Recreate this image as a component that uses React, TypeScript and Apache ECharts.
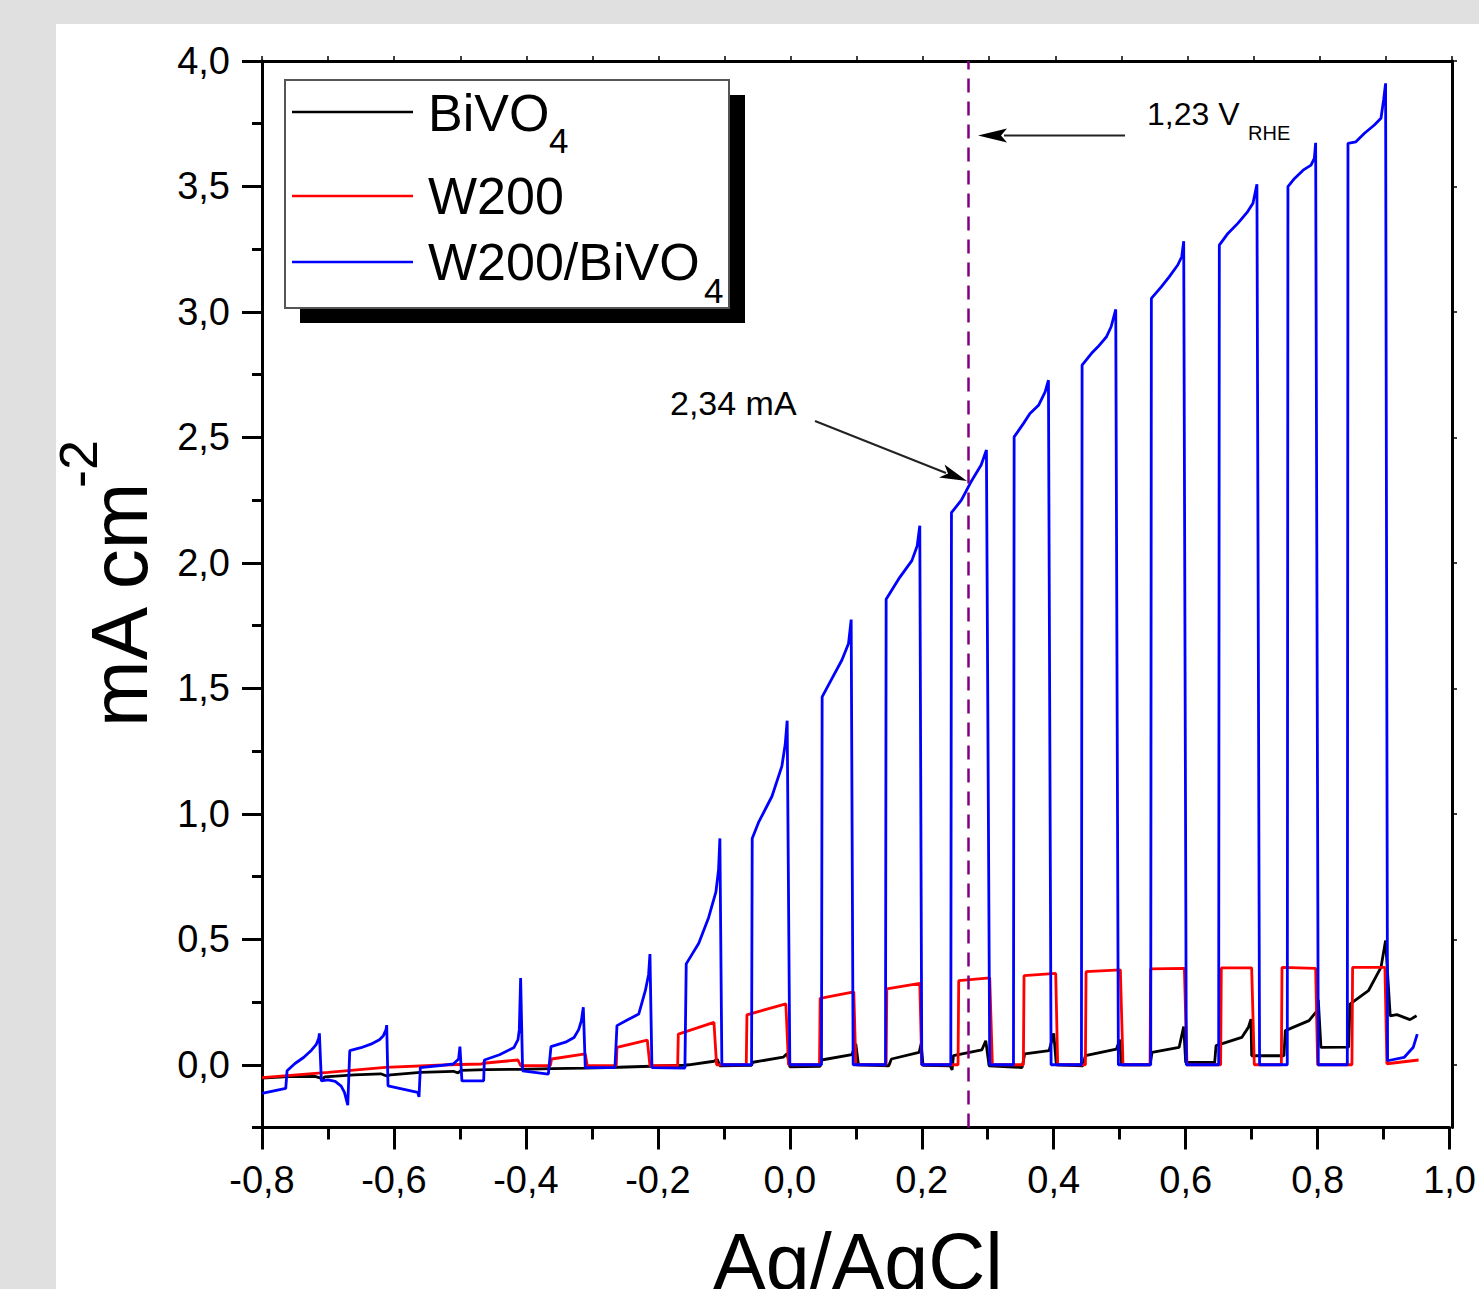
import React, { useEffect, useRef } from "react";
import * as echarts from "echarts";

const FONT = "'Liberation Sans', Arial, Helvetica, sans-serif";

// ---- data (potential vs Ag/AgCl [V], current density [mA cm^-2]) ----
const seriesNames = ["BiVO4", "W200", "W200/BiVO4"];
const seriesColors = ["#000000", "#ff0000", "#0000ff"];

const bivo4: [number, number][] = [
  [-0.8, -0.053], [-0.76, -0.047], [-0.72, -0.046], [-0.712, -0.052], [-0.709, -0.06], [-0.705, -0.048],
  [-0.66, -0.04], [-0.62, -0.036], [-0.612, -0.044], [-0.605, -0.04], [-0.56, -0.03], [-0.51, -0.026],
  [-0.503, -0.032], [-0.498, -0.022], [-0.46, -0.019], [-0.41, -0.018], [-0.36, -0.015], [-0.31, -0.013],
  [-0.26, -0.01], [-0.21, -0.006], [-0.16, -0.002], [-0.153, 0.0], [-0.115, 0.014], [-0.11, 0.022],
  [-0.106, -0.004], [-0.058, -0.002], [-0.056, 0.01], [-0.01, 0.03], [-0.004, 0.045], [0.0, -0.008],
  [0.046, -0.006], [0.048, 0.019], [0.094, 0.04], [0.1, 0.083], [0.104, 0.0], [0.15, -0.004],
  [0.154, 0.023], [0.196, 0.049], [0.199, 0.083], [0.202, -0.002], [0.243, -0.004], [0.246, -0.02],
  [0.248, 0.036], [0.291, 0.059], [0.297, 0.096], [0.302, -0.004], [0.352, -0.011], [0.356, 0.043],
  [0.393, 0.056], [0.4, 0.125], [0.404, 0.0], [0.444, -0.004], [0.448, 0.036], [0.495, 0.062],
  [0.5, 0.1], [0.503, 0.0], [0.546, 0.0], [0.549, 0.049], [0.59, 0.069], [0.597, 0.152],
  [0.6, 0.009], [0.644, 0.009], [0.646, 0.076], [0.685, 0.109], [0.695, 0.149], [0.699, 0.182],
  [0.7, 0.036], [0.749, 0.036], [0.751, 0.136], [0.787, 0.176], [0.799, 0.215], [0.801, 0.259],
  [0.805, 0.069], [0.847, 0.07], [0.849, 0.242], [0.877, 0.295], [0.896, 0.388], [0.903, 0.495],
  [0.91, 0.195], [0.92, 0.2], [0.93, 0.19], [0.94, 0.18], [0.95, 0.195],
];

const w200: [number, number][] = [
  [-0.8, -0.051], [-0.7, -0.03], [-0.613, -0.01], [-0.516, 0.0], [-0.467, 0.003], [-0.465, 0.006],
  [-0.412, 0.019], [-0.408, -0.004], [-0.363, -0.003], [-0.361, 0.023], [-0.31, 0.043], [-0.307, -0.004],
  [-0.263, -0.004], [-0.262, 0.069], [-0.216, 0.098], [-0.212, -0.004], [-0.17, -0.004], [-0.169, 0.122],
  [-0.115, 0.169], [-0.111, 0.0], [-0.066, 0.0], [-0.065, 0.199], [-0.006, 0.243], [-0.002, 0.0],
  [0.045, 0.0], [0.046, 0.265], [0.097, 0.29], [0.1, 0.0], [0.146, 0.0], [0.147, 0.302],
  [0.197, 0.324], [0.2, 0.0], [0.255, 0.0], [0.256, 0.335], [0.303, 0.346], [0.307, 0.0],
  [0.354, 0.0], [0.355, 0.355], [0.403, 0.364], [0.406, 0.0], [0.448, 0.0], [0.449, 0.371],
  [0.501, 0.378], [0.505, 0.0], [0.546, 0.0], [0.547, 0.382], [0.598, 0.384], [0.602, 0.0],
  [0.653, 0.0], [0.654, 0.386], [0.7, 0.386], [0.704, 0.0], [0.745, 0.0], [0.746, 0.388],
  [0.797, 0.384], [0.8, 0.0], [0.852, 0.0], [0.853, 0.388], [0.902, 0.388], [0.905, 0.004],
  [0.953, 0.019],
];

const w200Bivo4: [number, number][] = [
  [-0.8, -0.114], [-0.764, -0.094], [-0.762, -0.024], [-0.75, 0.005], [-0.737, 0.029], [-0.725, 0.058],
  [-0.718, 0.08], [-0.714, 0.105], [-0.713, 0.125], [-0.71, -0.064], [-0.7, -0.06], [-0.689, -0.066],
  [-0.68, -0.085], [-0.675, -0.11], [-0.67, -0.161], [-0.667, 0.056], [-0.65, 0.068], [-0.635, 0.082],
  [-0.622, 0.1], [-0.616, 0.116], [-0.612, 0.14], [-0.611, 0.158], [-0.609, -0.084], [-0.59, -0.095],
  [-0.564, -0.11], [-0.562, -0.128], [-0.56, -0.011], [-0.53, -0.003], [-0.51, 0.003], [-0.502, 0.023],
  [-0.5, 0.072], [-0.497, -0.064], [-0.464, -0.064], [-0.463, 0.019], [-0.44, 0.04], [-0.418, 0.069],
  [-0.412, 0.1], [-0.41, 0.14], [-0.408, 0.346], [-0.405, -0.024], [-0.366, -0.037], [-0.362, 0.072],
  [-0.34, 0.09], [-0.327, 0.109], [-0.32, 0.14], [-0.316, 0.175], [-0.313, 0.229], [-0.31, -0.011],
  [-0.265, -0.011], [-0.262, 0.156], [-0.245, 0.18], [-0.229, 0.202], [-0.219, 0.295], [-0.214, 0.36],
  [-0.212, 0.441], [-0.209, -0.011], [-0.159, -0.013], [-0.157, 0.402], [-0.138, 0.484], [-0.123, 0.587],
  [-0.112, 0.689], [-0.108, 0.777], [-0.106, 0.902], [-0.103, 0.0], [-0.058, 0.0], [-0.057, 0.902],
  [-0.047, 0.968], [-0.027, 1.07], [-0.012, 1.19], [-0.007, 1.276], [-0.004, 1.371], [0.0, 0.0],
  [0.048, 0.0], [0.049, 1.466], [0.064, 1.54], [0.079, 1.613], [0.089, 1.679], [0.093, 1.774],
  [0.096, 0.0], [0.145, 0.0], [0.146, 1.855], [0.165, 1.936], [0.185, 2.009], [0.193, 2.067],
  [0.197, 2.148], [0.2, 0.0], [0.244, 0.0], [0.245, 2.2], [0.26, 2.25], [0.274, 2.32],
  [0.29, 2.39], [0.298, 2.45], [0.303, 0.0], [0.339, 0.0], [0.34, 2.502], [0.354, 2.555],
  [0.364, 2.595], [0.377, 2.628], [0.387, 2.681], [0.392, 2.728], [0.396, 0.0], [0.442, 0.0],
  [0.443, 2.788], [0.457, 2.834], [0.467, 2.861], [0.48, 2.901], [0.487, 2.941], [0.494, 3.01],
  [0.498, 0.0], [0.547, 0.0], [0.548, 3.054], [0.563, 3.1], [0.575, 3.14], [0.588, 3.187],
  [0.594, 3.22], [0.597, 3.282], [0.601, 0.0], [0.65, 0.0], [0.651, 3.266], [0.664, 3.313],
  [0.679, 3.353], [0.694, 3.4], [0.702, 3.433], [0.708, 3.509], [0.712, 0.0], [0.754, 0.0],
  [0.755, 3.499], [0.765, 3.532], [0.778, 3.565], [0.79, 3.585], [0.795, 3.612], [0.797, 3.674],
  [0.801, 0.0], [0.845, 0.0], [0.846, 3.672], [0.858, 3.678], [0.871, 3.712], [0.886, 3.745],
  [0.896, 3.772], [0.9, 3.845], [0.903, 3.911], [0.906, 0.016], [0.931, 0.029], [0.945, 0.07],
  [0.951, 0.122],
];

const yMajorTicks = [0, 0.5, 1, 1.5, 2, 2.5, 3, 3.5, 4];
const rheMark = 0.274; // 1,23 V_RHE on the Ag/AgCl scale

const fmt1 = (v: number) => v.toFixed(1).replace(".", ",");

export default function App() {
  const ref = useRef<HTMLDivElement>(null);

  useEffect(() => {
    if (!ref.current) return;
    const chart = echarts.init(ref.current, undefined, { renderer: "svg" });
    const axisLine = { show: true, onZero: false, lineStyle: { color: "#000", width: 3 } };
    const tickStyle = { color: "#000", width: 3 };
    const gridRect = { left: 262, right: 27, top: 61, bottom: 161.5 };

    const datasets = [bivo4, w200, w200Bivo4];

    const option: any = {
      animation: false,
      backgroundColor: "transparent",
      grid: [{ ...gridRect }, { ...gridRect }],
      xAxis: [
        {
          gridIndex: 0, type: "value", position: "bottom", min: -0.8, max: 1.0, interval: 0.2,
          axisLine,
          axisTick: { show: true, length: 22, lineStyle: tickStyle },
          minorTick: { show: true, splitNumber: 2, length: 12, lineStyle: tickStyle },
          axisLabel: { margin: 33, fontSize: 38, fontFamily: FONT, color: "#000", formatter: fmt1, showMinLabel: true, showMaxLabel: true },
          splitLine: { show: false },
          minorSplitLine: { show: false },
        },
        {
          gridIndex: 1, type: "value", position: "top", min: -0.8, max: 1.0, interval: 0.1,
          axisLine,
          axisTick: { show: true, length: 5, lineStyle: { color: "#000", width: 1.5 } },
          axisLabel: { show: false },
          splitLine: { show: false },
        },
      ],
      yAxis: [
        {
          gridIndex: 0, type: "value", position: "left", min: -0.25, max: 4, interval: 0.25,
          axisLine,
          axisTick: { show: true, length: 20, customValues: yMajorTicks, lineStyle: tickStyle },
          axisLabel: { customValues: yMajorTicks, margin: 32, fontSize: 38, fontFamily: FONT, color: "#000", formatter: fmt1 },
          splitLine: { show: false },
        },
        {
          gridIndex: 1, type: "value", position: "left", min: -0.25, max: 4, interval: 0.25,
          axisLine: { show: false, onZero: false },
          axisTick: { show: true, length: 10, lineStyle: tickStyle },
          axisLabel: { show: false },
          splitLine: { show: false },
        },
        {
          gridIndex: 1, type: "value", position: "right", min: -0.25, max: 4, interval: 0.25,
          axisLine,
          axisTick: { show: true, length: 5, customValues: yMajorTicks, lineStyle: { color: "#000", width: 1.5 } },
          axisLabel: { show: false },
          splitLine: { show: false },
        },
      ],
      series: datasets.map((d, i) => ({
        name: seriesNames[i],
        type: "line",
        xAxisIndex: 0,
        yAxisIndex: 0,
        data: d,
        showSymbol: false,
        symbol: "none",
        lineStyle: { color: seriesColors[i], width: 2.8 },
        itemStyle: { color: seriesColors[i] },
        emphasis: { disabled: true },
        z: 2 + i,
        markLine:
          i === 2
            ? {
                silent: true,
                symbol: "none",
                label: { show: false },
                lineStyle: { color: "#800080", type: [14, 9], width: 2.5 },
                data: [{ xAxis: rheMark }],
              }
            : undefined,
      })),
      graphic: [
        // legend shadow + box
        { type: "rect", shape: { x: 300, y: 95, width: 445, height: 228 }, style: { fill: "#000" }, z: 10 },
        { type: "rect", shape: { x: 285, y: 80, width: 444, height: 228 }, style: { fill: "#fff", stroke: "#555", lineWidth: 2 }, z: 11 },
        { type: "line", shape: { x1: 292, y1: 112, x2: 413, y2: 112 }, style: { stroke: seriesColors[0], lineWidth: 2.6 }, z: 12 },
        { type: "line", shape: { x1: 292, y1: 196, x2: 413, y2: 196 }, style: { stroke: seriesColors[1], lineWidth: 2.6 }, z: 12 },
        { type: "line", shape: { x1: 292, y1: 262, x2: 413, y2: 262 }, style: { stroke: seriesColors[2], lineWidth: 2.6 }, z: 12 },
        { type: "text", x: 428, y: 113, z: 12, style: { text: "BiVO", font: `52px ${FONT}`, fill: "#000", align: "left", verticalAlign: "middle" } },
        { type: "text", x: 549, y: 140, z: 12, style: { text: "4", font: `35px ${FONT}`, fill: "#000", align: "left", verticalAlign: "middle" } },
        { type: "text", x: 428, y: 196, z: 12, style: { text: "W200", font: `52px ${FONT}`, fill: "#000", align: "left", verticalAlign: "middle" } },
        { type: "text", x: 428, y: 262, z: 12, style: { text: "W200/BiVO", font: `52px ${FONT}`, fill: "#000", align: "left", verticalAlign: "middle" } },
        { type: "text", x: 704, y: 290, z: 12, style: { text: "4", font: `35px ${FONT}`, fill: "#000", align: "left", verticalAlign: "middle" } },
        // 1,23 V_RHE annotation
        { type: "text", x: 1147, y: 114, z: 12, style: { text: "1,23 V", font: `32px ${FONT}`, fill: "#000", align: "left", verticalAlign: "middle" } },
        { type: "text", x: 1248, y: 133, z: 12, style: { text: "RHE", font: `20px ${FONT}`, fill: "#000", align: "left", verticalAlign: "middle" } },
        { type: "line", shape: { x1: 1004, y1: 135.5, x2: 1125, y2: 135.5 }, style: { stroke: "#222", lineWidth: 2 }, z: 12 },
        { type: "polygon", shape: { points: [[978, 135.5], [1007, 128.5], [1001, 135.5], [1007, 142.5]] }, style: { fill: "#000" }, z: 12 },
        // 2,34 mA annotation
        { type: "text", x: 670, y: 403, z: 12, style: { text: "2,34 mA", font: `34px ${FONT}`, fill: "#000", align: "left", verticalAlign: "middle" } },
        { type: "line", shape: { x1: 815, y1: 421, x2: 946, y2: 473 }, style: { stroke: "#222", lineWidth: 2 }, z: 12 },
        { type: "polygon", shape: { points: [[967, 481], [939, 477.5], [948, 473.6], [944.5, 464.5]] }, style: { fill: "#000" }, z: 12 },
        // axis titles
        { type: "text", x: 858, y: 1261, z: 12, style: { text: "Ag/AgCl", font: `79px ${FONT}`, fill: "#000", align: "center", verticalAlign: "middle" } },
        { type: "text", x: 119, y: 727, rotation: Math.PI / 2, z: 12, style: { text: "mA cm", font: `80px ${FONT}`, fill: "#000", align: "left", verticalAlign: "middle" } },
        { type: "text", x: 78, y: 488, rotation: Math.PI / 2, z: 12, style: { text: "-2", font: `54px ${FONT}`, fill: "#000", align: "left", verticalAlign: "middle" } },
      ],
    };

    chart.setOption(option);
    return () => chart.dispose();
  }, []);

  return (
    <div style={{ position: "absolute", left: 0, top: 0, width: 1479, height: 1289, background: "#e0e0e0", overflow: "hidden" }}>
      <div style={{ position: "absolute", left: 56, top: 24, width: 1423, height: 1265, background: "#ffffff" }} />
      <div ref={ref} style={{ position: "absolute", left: 0, top: 0, width: 1479, height: 1289 }} />
    </div>
  );
}
